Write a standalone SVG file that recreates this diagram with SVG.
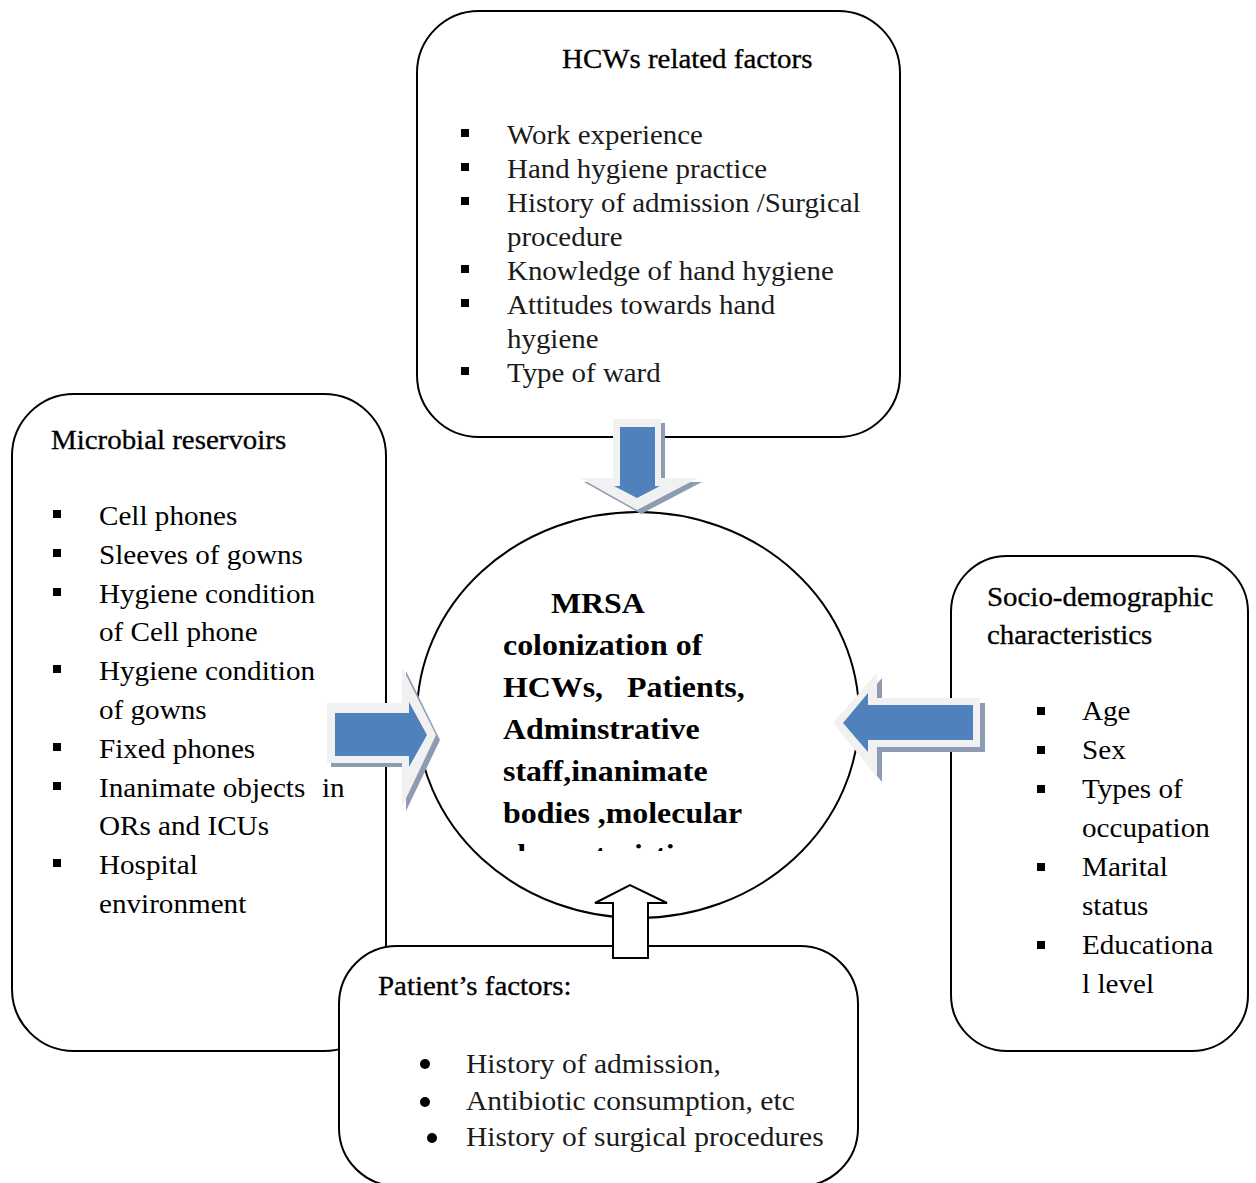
<svg xmlns="http://www.w3.org/2000/svg" width="1256" height="1183" viewBox="0 0 1256 1183">
<style>
.box{fill:#fff;stroke:#000;stroke-width:2}
.t{font-family:"Liberation Serif","Times New Roman",serif;font-size:26.5px;fill:#000}
.g{font-family:"Liberation Serif","Times New Roman",serif;font-size:26.3px;fill:#1a1a1a}
.h{font-family:"Liberation Serif","Times New Roman",serif;font-size:26.3px;fill:#000;stroke:#000;stroke-width:0.3}
.c{font-family:"Liberation Serif","Times New Roman",serif;font-size:29px;font-weight:bold;fill:#000}
.sq{fill:#000}
.out{fill:#f1f1f1}
.sh{fill:#8e9cb3}
.blue{fill:#4f81bd}
</style>
<defs>
<rect id="sq" width="8" height="8"/>
<clipPath id="cclip"><rect x="400" y="500" width="480" height="351"/></clipPath>
</defs>

<g id="hcw-box">
<rect class="box" x="417" y="11" width="483" height="426" rx="62"/>
<text class="h" transform="translate(562 0) scale(1.1 1)"><tspan x="0" y="68">HCWs related factors</tspan></text>
<g class="sq"><use href="#sq" x="461" y="129"/><use href="#sq" x="461" y="163"/><use href="#sq" x="461" y="197"/><use href="#sq" x="461" y="265"/><use href="#sq" x="461" y="299"/><use href="#sq" x="461" y="367"/></g>
<text class="g" transform="translate(507 0) scale(1.1 1)"><tspan x="0" y="144">Work experience</tspan><tspan x="0" y="178">Hand hygiene practice</tspan><tspan x="0" y="212">History of admission /Surgical</tspan><tspan x="0" y="246">procedure</tspan><tspan x="0" y="280">Knowledge of hand hygiene</tspan><tspan x="0" y="314">Attitudes towards hand</tspan><tspan x="0" y="348">hygiene</tspan><tspan x="0" y="382">Type of ward</tspan></text>
</g>

<g id="microbial-box">
<rect class="box" x="12" y="394" width="374" height="657" rx="62"/>
<text class="h" transform="translate(51 0) scale(1.1 1)"><tspan x="0" y="449">Microbial reservoirs</tspan></text>
<g class="sq"><use href="#sq" x="53" y="510"/><use href="#sq" x="53" y="549"/><use href="#sq" x="53" y="588"/><use href="#sq" x="53" y="665"/><use href="#sq" x="53" y="743"/><use href="#sq" x="53" y="782"/><use href="#sq" x="53" y="859"/></g>
<text class="t" transform="translate(99 0) scale(1.1 1)"><tspan x="0" y="525">Cell phones</tspan><tspan x="0" y="564">Sleeves of gowns</tspan><tspan x="0" y="603">Hygiene condition</tspan><tspan x="0" y="641">of Cell phone</tspan><tspan x="0" y="680">Hygiene condition</tspan><tspan x="0" y="719">of gowns</tspan><tspan x="0" y="758">Fixed phones</tspan><tspan x="0" y="797">Inanimate objects</tspan><tspan x="202.7" y="797">in</tspan><tspan x="0" y="835">ORs and ICUs</tspan><tspan x="0" y="874">Hospital</tspan><tspan x="0" y="913">environment</tspan></text>
</g>

<g id="socio-box">
<rect class="box" x="951" y="556" width="297" height="495" rx="56"/>
<text class="h" transform="translate(987 0) scale(1.1 1)"><tspan x="0" y="606">Socio-demographic</tspan><tspan x="0" y="644">characteristics</tspan></text>
<g class="sq"><use href="#sq" x="1037" y="707"/><use href="#sq" x="1037" y="746"/><use href="#sq" x="1037" y="785"/><use href="#sq" x="1037" y="863"/><use href="#sq" x="1037" y="941"/></g>
<text class="t" transform="translate(1082 0) scale(1.1 1)"><tspan x="0" y="720">Age</tspan><tspan x="0" y="759">Sex</tspan><tspan x="0" y="798">Types of</tspan><tspan x="0" y="837">occupation</tspan><tspan x="0" y="876">Marital</tspan><tspan x="0" y="915">status</tspan><tspan x="0" y="954">Educationa</tspan><tspan x="0" y="993">l level</tspan></text>
</g>

<g id="patient-box">
<rect class="box" x="339" y="946" width="519" height="240" rx="58"/>
<text class="h" transform="translate(378 0) scale(1.1 1)"><tspan x="0" y="995">Patient’s factors:</tspan></text>
<g class="sq"><circle cx="425" cy="1064" r="5"/><circle cx="425" cy="1102" r="5"/><circle cx="432" cy="1138" r="5"/></g>
<text class="g" transform="translate(466 0) scale(1.11 1)" style="font-size:26.6px"><tspan x="0" y="1073">History of admission,</tspan><tspan x="0" y="1110">Antibiotic consumption, etc</tspan><tspan x="0" y="1146">History of surgical procedures</tspan></text>
</g>

<g id="mrsa-circle">
<ellipse class="box" cx="638" cy="715" rx="221" ry="203"/>
<g clip-path="url(#cclip)">
<text class="c" transform="translate(503 0) scale(1.1 1)"><tspan x="43.6" y="613">MRSA</tspan><tspan x="0" y="655">colonization of</tspan><tspan x="0" y="697">HCWs,</tspan><tspan x="112.7" y="697">Patients,</tspan><tspan x="0" y="739">Adminstrative</tspan><tspan x="0" y="781">staff,inanimate</tspan><tspan x="0" y="823">bodies ,molecular</tspan><tspan x="0" y="865">characteristics</tspan></text>
</g>
</g>

<g id="connectors">
<g id="arrow-top">
<polygon class="sh" points="617,423 665,423 665,482 702,482 641,514 584,482 617,482"/>
<polygon class="out" points="613,419 661,419 661,478 698,478 637,510 580,478 613,478"/>
<polygon class="blue" points="620,427 655,427 655,486 660,486 637,498 614,486 620,486"/>
</g>
<g id="arrow-left">
<polygon class="sh" points="331,707 406,707 406,671 440,740 406,811 406,767 331,767"/>
<polygon class="out" points="327,703 402,703 402,667 436,735 402,807 402,763 327,763"/>
<polygon class="blue" points="335,713 409,713 409,702 427,735 409,767 409,756 335,756"/>
</g>
<g id="arrow-right">
<polygon class="sh" points="985,703 882,703 882,678 838,728 882,782 882,752 985,752"/>
<polygon class="out" points="980,698 877,698 877,673 833,723 877,777 877,747 980,747"/>
<polygon class="blue" points="973,705 868,705 868,693 843,723 868,752 868,740 973,740"/>
</g>
<g id="arrow-bottom">
<polygon points="613,958 648,958 648,903 667,903 630,885 595,903 613,903" fill="#fff" stroke="#000" stroke-width="2"/>
</g>
</g>
</svg>
